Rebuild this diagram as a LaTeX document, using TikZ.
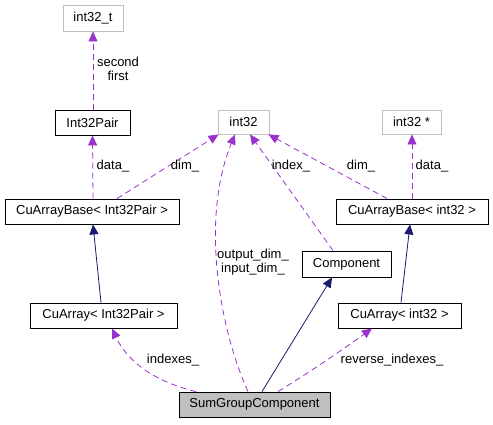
\documentclass[tikz,border=0pt]{standalone}
\usepackage{fontspec}
\setmainfont{Liberation Sans}
\usetikzlibrary{arrows.meta}
\definecolor{edgepurple}{HTML}{9A32CD}
\definecolor{edgenavy}{HTML}{191970}
\definecolor{boxgray}{HTML}{BFBFBF}
\begin{document}
\begin{tikzpicture}[x=1pt,y=-1pt,
  every node/.style={font=\fontsize{13}{14}\selectfont},
  cls/.style={draw=black,line width=0.9pt,inner sep=0pt,fill=white},
  ext/.style={draw=boxgray,line width=0.9pt,inner sep=0pt,fill=white},
  cur/.style={draw=black,line width=0.9pt,inner sep=0pt,fill=boxgray},
  uses/.style={draw=edgepurple,line width=0.8pt,dash pattern=on 6pt off 4pt,-{Triangle[length=10pt,width=9pt]},edgepurple},
  inh/.style={draw=edgenavy,line width=0.8pt,-{Triangle[length=10pt,width=9pt]},edgenavy},
  lbl/.style={inner sep=0pt,align=center}]
\useasboundingbox (0,0) rectangle (493,424);
% nodes
\node[ext,minimum width=60pt,minimum height=26pt] (i32t) at (93,18) {int32\_t};
\node[cls,minimum width=75pt,minimum height=25pt] (pair) at (92.5,122.5) {Int32Pair};
\node[ext,minimum width=51pt,minimum height=24pt] (i32) at (243.5,122) {int32};
\node[ext,minimum width=59pt,minimum height=24pt] (i32p) at (411.5,122) {int32 *};
\node[cls,minimum width=174pt,minimum height=25pt] (cab1) at (92,211.5) {CuArrayBase< Int32Pair >};
\node[cls,minimum width=152pt,minimum height=25pt] (cab2) at (412,211.5) {CuArrayBase< int32 >};
\node[cls,minimum width=89pt,minimum height=26pt] (comp) at (346.5,264) {Component};
\node[cls,minimum width=147pt,minimum height=25pt] (ca1) at (103.5,315.5) {CuArray< Int32Pair >};
\node[cls,minimum width=123pt,minimum height=25pt] (ca2) at (399.5,315.5) {CuArray< int32 >};
\node[cur,minimum width=151pt,minimum height=25pt] (sgc) at (254.5,404.5) {SumGroupComponent};
% edges
\draw[uses] ([xshift=0.5pt]pair.north) -- (i32t.south);
\draw[uses] ([xshift=1pt]cab1.north) -- (pair.south);
\draw[uses] ([xshift=25pt]cab1.north) -- ([xshift=1pt]i32.south west);
\draw[uses] ([xshift=-25pt]cab2.north) -- ([xshift=-1pt]i32.south east);
\draw[uses] (cab2.north) -- ([xshift=0.5pt]i32p.south);
\draw[uses] ([xshift=-13.5pt]comp.north) -- ([xshift=6.5pt]i32.south);
\draw[uses] ([xshift=-6.5pt]sgc.north) .. controls (220,330) and (200,220) .. ([xshift=-8.5pt]i32.south);
\draw[inh] ([xshift=-2.5pt]ca1.north) -- ([xshift=1pt]cab1.south);
\draw[inh] ([xshift=1.5pt]ca2.north) -- ([xshift=-2pt]cab2.south);
\draw[inh] ([xshift=7.5pt]sgc.north) -- ([xshift=-14.5pt]comp.south);
\draw[uses] ([xshift=-58.5pt]sgc.north) .. controls (140,378) and (122,350) .. ([xshift=8.5pt]ca1.south);
\draw[uses] ([xshift=23.5pt]sgc.north) .. controls (310,372) and (345,348) .. ([xshift=-27.5pt]ca2.south);
% labels
\node[lbl] (l1) at (118,69) {second\\first};
\node[lbl] (l2) at (113,166) {data\_};
\node[lbl] (l3) at (185,166) {dim\_};
\node[lbl] (l4) at (291,166) {index\_};
\node[lbl] (l5) at (361,166) {dim\_};
\node[lbl] (l6) at (432,166) {data\_};
\node[lbl] (l7) at (253,262) {output\_dim\_\\input\_dim\_};
\node[lbl] (l8) at (173,360) {indexes\_};
\node[lbl] (l9) at (392,360) {reverse\_indexes\_};
\end{tikzpicture}
\end{document}
